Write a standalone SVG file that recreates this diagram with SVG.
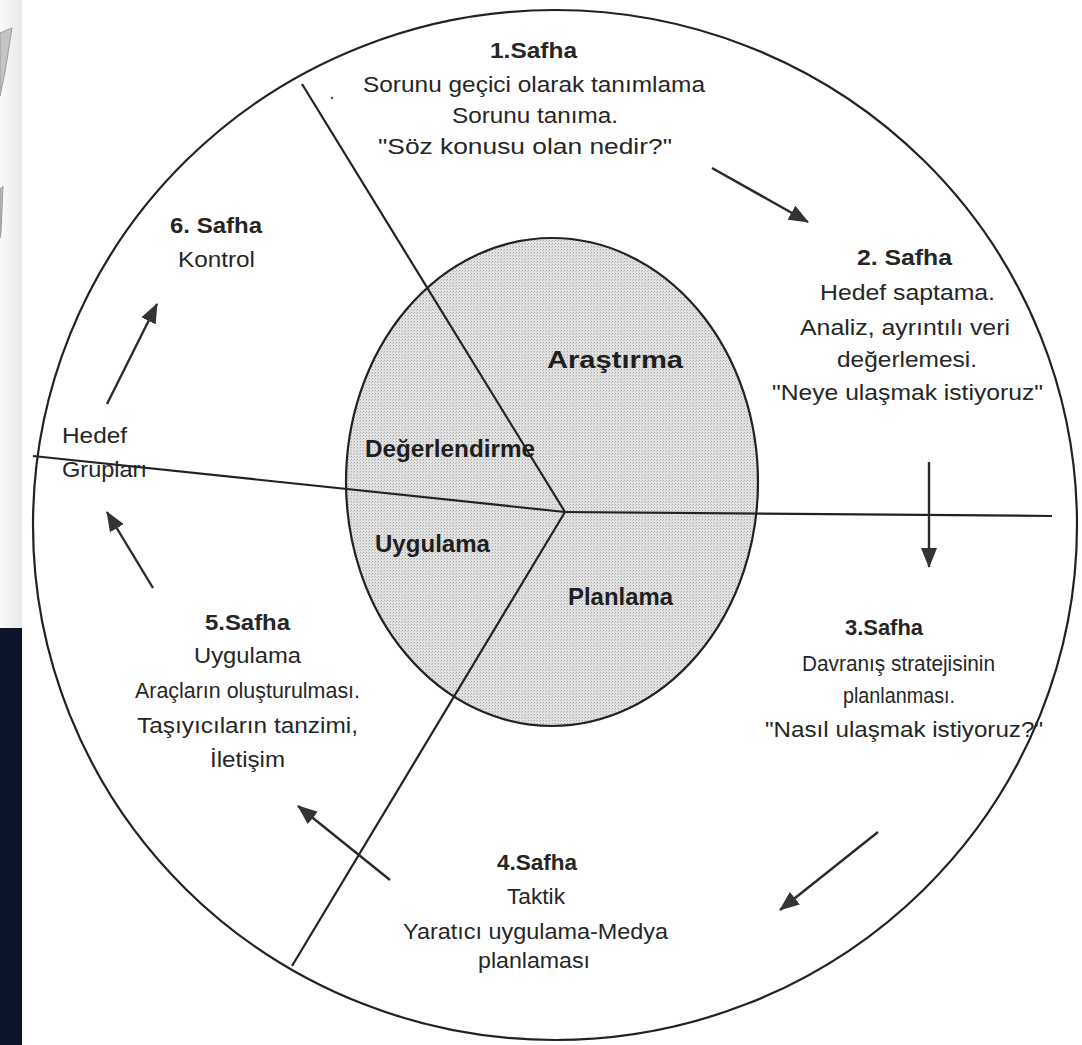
<svg xmlns="http://www.w3.org/2000/svg" width="1082" height="1045" viewBox="0 0 1082 1045">
<style>
  text { font-family: "Liberation Sans", Arial, sans-serif; fill: #262626; }
  .t { font-size: 22px; }
  .b { font-size: 22px; font-weight: bold; }
  .in { font-size: 23px; font-weight: bold; fill: #1e1e1e; }
  .ln { stroke: #222; stroke-width: 2.2; fill: none; }
  .arr { stroke: #2a2a2a; stroke-width: 2.4; fill: none; marker-end: url(#ah); }
</style>
<defs>
  <marker id="ah" viewBox="0 0 20 16" refX="19" refY="8" markerWidth="20" markerHeight="16" markerUnits="userSpaceOnUse" orient="auto">
    <path d="M0,0 L20,8 L0,16 Z" fill="#333"/>
  </marker>
  <pattern id="dots" width="3" height="3" patternUnits="userSpaceOnUse">
    <rect width="3" height="3" fill="#e2e2e2"/>
    <rect width="1" height="1" fill="#a8a8a8"/>
    <rect x="2" y="1" width="1" height="1" fill="#c4c4c4"/>
  </pattern>
  <linearGradient id="strip" x1="0" y1="0" x2="1" y2="0">
    <stop offset="0" stop-color="#fafafa"/>
    <stop offset="1" stop-color="#e8e8e8"/>
  </linearGradient>
</defs>
<rect width="1082" height="1045" fill="#ffffff"/>
<g id="left-strip">
  <rect x="0" y="0" width="22" height="628" fill="url(#strip)"/>
  <rect x="0" y="628" width="22" height="417" fill="#0b1428"/>
  <polygon points="0,33 12,28 5,72 0,96" fill="#c4c4c4" stroke="#9a9a9a" stroke-width="1"/>
  <polygon points="0,189 3,186 1,232 0,238" fill="#bdbdbd" stroke="#9a9a9a" stroke-width="1"/>
</g>
<g id="outer-circle">
  <ellipse cx="555" cy="525" rx="522" ry="515" class="ln"/>
</g>
<g id="inner-circle">
  <ellipse cx="552" cy="482" rx="206" ry="244" fill="url(#dots)" stroke="#222" stroke-width="2.2"/>
</g>
<g id="spokes">
  <line x1="565" y1="512" x2="302" y2="84" class="ln"/>
  <line x1="565" y1="512" x2="33" y2="456" class="ln"/>
  <line x1="565" y1="512" x2="1052" y2="516" class="ln"/>
  <line x1="565" y1="512" x2="292" y2="966" class="ln"/>
  <circle cx="332" cy="98" r="1.3" fill="#555"/>
</g>
<g id="connectors">
  <line x1="712" y1="168" x2="808" y2="222" class="arr"/>
  <line x1="929" y1="462" x2="929" y2="567" class="arr"/>
  <line x1="878" y1="832" x2="780" y2="910" class="arr"/>
  <line x1="390" y1="880" x2="298" y2="806" class="arr"/>
  <line x1="153" y1="588" x2="107" y2="512" class="arr"/>
  <line x1="107" y1="404" x2="157" y2="304" class="arr"/>
</g>
<g id="inner-labels">
  <text class="in" x="547" y="368" textLength="136" lengthAdjust="spacingAndGlyphs">Araştırma</text>
  <text class="in" x="365" y="457" textLength="170" lengthAdjust="spacingAndGlyphs">Değerlendirme</text>
  <text class="in" x="375" y="552" textLength="115" lengthAdjust="spacingAndGlyphs">Uygulama</text>
  <text class="in" x="568" y="605" textLength="105" lengthAdjust="spacingAndGlyphs">Planlama</text>
</g>
<g id="phase1">
  <text class="b" x="490" y="58" textLength="87" lengthAdjust="spacingAndGlyphs">1.Safha</text>
  <text class="t" x="363" y="92" textLength="342" lengthAdjust="spacingAndGlyphs">Sorunu geçici olarak tanımlama</text>
  <text class="t" x="452" y="123" textLength="166" lengthAdjust="spacingAndGlyphs">Sorunu tanıma.</text>
  <text class="t" x="378" y="154" textLength="294" lengthAdjust="spacingAndGlyphs">"Söz konusu olan nedir?"</text>
</g>
<g id="phase2">
  <text class="b" x="857" y="265" textLength="95" lengthAdjust="spacingAndGlyphs">2. Safha</text>
  <text class="t" x="820" y="300" textLength="175" lengthAdjust="spacingAndGlyphs">Hedef saptama.</text>
  <text class="t" x="800" y="335" textLength="210" lengthAdjust="spacingAndGlyphs">Analiz, ayrıntılı veri</text>
  <text class="t" x="837" y="367" textLength="140" lengthAdjust="spacingAndGlyphs">değerlemesi.</text>
  <text class="t" x="772" y="400" textLength="271" lengthAdjust="spacingAndGlyphs">"Neye ulaşmak istiyoruz"</text>
</g>
<g id="phase3">
  <text class="b" x="845" y="635" textLength="78" lengthAdjust="spacingAndGlyphs">3.Safha</text>
  <text class="t" x="802" y="671" textLength="193" lengthAdjust="spacingAndGlyphs">Davranış stratejisinin</text>
  <text class="t" x="843" y="703" textLength="112" lengthAdjust="spacingAndGlyphs">planlanması.</text>
  <text class="t" x="765" y="737" textLength="278" lengthAdjust="spacingAndGlyphs">"Nasıl ulaşmak istiyoruz?"</text>
</g>
<g id="phase4">
  <text class="b" x="497" y="870" textLength="80" lengthAdjust="spacingAndGlyphs">4.Safha</text>
  <text class="t" x="507" y="904" textLength="58" lengthAdjust="spacingAndGlyphs">Taktik</text>
  <text class="t" x="403" y="939" textLength="265" lengthAdjust="spacingAndGlyphs">Yaratıcı uygulama-Medya</text>
  <text class="t" x="478" y="968" textLength="112" lengthAdjust="spacingAndGlyphs">planlaması</text>
</g>
<g id="phase5">
  <text class="b" x="205" y="630" textLength="85" lengthAdjust="spacingAndGlyphs">5.Safha</text>
  <text class="t" x="194" y="663" textLength="107" lengthAdjust="spacingAndGlyphs">Uygulama</text>
  <text class="t" x="135" y="698" textLength="225" lengthAdjust="spacingAndGlyphs">Araçların oluşturulması.</text>
  <text class="t" x="137" y="733" textLength="221" lengthAdjust="spacingAndGlyphs">Taşıyıcıların tanzimi,</text>
  <text class="t" x="210" y="767" textLength="75" lengthAdjust="spacingAndGlyphs">İletişim</text>
</g>
<g id="phase6">
  <text class="b" x="170" y="233" textLength="92" lengthAdjust="spacingAndGlyphs">6. Safha</text>
  <text class="t" x="178" y="267" textLength="77" lengthAdjust="spacingAndGlyphs">Kontrol</text>
</g>
<g id="hedef-gruplari">
  <text class="t" x="62" y="443" textLength="65" lengthAdjust="spacingAndGlyphs">Hedef</text>
  <text class="t" x="62" y="477" textLength="85" lengthAdjust="spacingAndGlyphs">Grupları</text>
</g>
</svg>
